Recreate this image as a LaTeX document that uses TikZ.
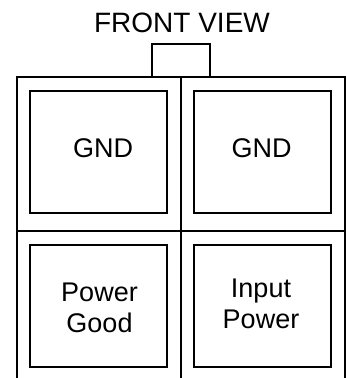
\documentclass[tikz,border=0pt]{standalone}
\usepackage{fontspec}
\setmainfont{Liberation Sans}
\usetikzlibrary{positioning}
\tikzset{pad/.style={draw,line width=2pt,minimum width=137pt,minimum height=122pt,inner sep=0pt},
         lbl/.style={font=\fontsize{27}{31}\selectfont,align=center,inner sep=0pt}}

\begin{document}
\begin{tikzpicture}[x=1pt,y=-1pt,line width=2pt]
\useasboundingbox (0,0) rectangle (347,378);
\node[lbl,font=\fontsize{28}{32}\selectfont] (title) at (182,23){FRONT VIEW};
% housing
\draw (16.5,378) -- (16.5,76.5) -- (152,76.5);
\draw (210,76.5) -- (345,76.5) -- (345,378);
\draw (152,44) rectangle (210,76.5);
\draw (180.5,76.5) -- (180.5,378);
\draw (16.5,231) -- (345,231);
% pads
\node[pad] (gndA) at (98,152){};
\node[pad] (gndB) at (262,152){};
\node[pad] (pgood) at (98,305.5){};
\node[pad] (pin) at (262,305.5){};
\node[lbl] (gndAtxt) at (103,148.5){GND};
\node[lbl] (gndBtxt) at (261.5,148.5){GND};
\node[lbl] (pgoodtxt) at (99.5,308){Power\\Good};
\node[lbl] (pintxt) at (261,304){Input\\Power};
\end{tikzpicture}
\end{document}
